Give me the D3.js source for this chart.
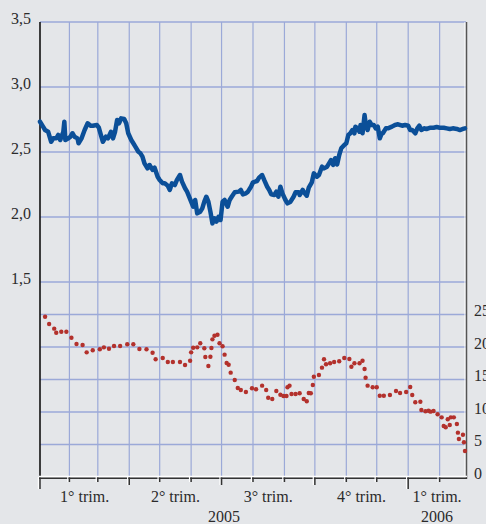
<!DOCTYPE html>
<html>
<head>
<meta charset="utf-8">
<script src="https://cdn.jsdelivr.net/npm/d3@7"></script>
<style>
  html, body { margin: 0; padding: 0; background: #e4e6e9; }
  svg { display: block; }
  text { font-family: "Liberation Serif", "Times New Roman", serif; font-size: 16px; fill: #2b2b2b; }
</style>
</head>
<body>
<svg id="chart" width="486" height="524"></svg>
<script>
// serie blu (scala sinistra)
const blueDates = [
  "2005-01-03","2005-01-06","2005-01-08","2005-01-11","2005-01-14","2005-01-16","2005-01-19","2005-01-21","2005-01-23","2005-01-26",
  "2005-01-27","2005-01-28","2005-01-31","2005-02-02","2005-02-04","2005-02-06","2005-02-09","2005-02-10","2005-02-13","2005-02-16",
  "2005-02-19","2005-02-22","2005-02-24","2005-02-28","2005-03-02","2005-03-04","2005-03-06","2005-03-09","2005-03-11","2005-03-14",
  "2005-03-16","2005-03-18","2005-03-20","2005-03-22","2005-03-24","2005-03-27","2005-03-29","2005-03-31","2005-04-03","2005-04-05",
  "2005-04-07","2005-04-10","2005-04-12","2005-04-14","2005-04-16","2005-04-19","2005-04-21","2005-04-24","2005-04-26","2005-04-29",
  "2005-05-01","2005-05-04","2005-05-06","2005-05-09","2005-05-11","2005-05-13","2005-05-16","2005-05-18","2005-05-21","2005-05-23",
  "2005-05-26","2005-05-28","2005-06-01","2005-06-03","2005-06-05","2005-06-07","2005-06-10","2005-06-12","2005-06-14","2005-06-16",
  "2005-06-18","2005-06-20","2005-06-22","2005-06-24","2005-06-26","2005-06-28","2005-06-30","2005-07-02","2005-07-04","2005-07-07",
  "2005-07-09","2005-07-11","2005-07-14","2005-07-18","2005-07-20","2005-07-22","2005-07-25","2005-07-27","2005-07-30","2005-08-01",
  "2005-08-05","2005-08-07","2005-08-10","2005-08-12","2005-08-15","2005-08-17","2005-08-19","2005-08-22","2005-08-24","2005-08-26",
  "2005-08-28","2005-08-30","2005-09-02","2005-09-04","2005-09-07","2005-09-10","2005-09-12","2005-09-15","2005-09-16","2005-09-19",
  "2005-09-21","2005-09-23","2005-09-25","2005-09-28","2005-09-30","2005-10-03","2005-10-05","2005-10-08","2005-10-10","2005-10-13",
  "2005-10-15","2005-10-17","2005-10-19","2005-10-21","2005-10-22","2005-10-23","2005-10-25","2005-10-27","2005-10-30","2005-11-01",
  "2005-11-03","2005-11-05","2005-11-07","2005-11-09","2005-11-10","2005-11-12","2005-11-14","2005-11-15","2005-11-17","2005-11-19",
  "2005-11-20","2005-11-22","2005-11-24","2005-11-26","2005-11-28","2005-11-30","2005-12-02","2005-12-04","2005-12-06","2005-12-07",
  "2005-12-10","2005-12-12","2005-12-16","2005-12-19","2005-12-22","2005-12-26","2005-12-29","2006-01-01","2006-01-03","2006-01-05",
  "2006-01-08","2006-01-10","2006-01-12","2006-01-14","2006-01-17","2006-01-19","2006-01-23","2006-01-26","2006-01-29","2006-02-01",
  "2006-02-05","2006-02-08","2006-02-11","2006-02-14","2006-02-18","2006-02-21","2006-02-24","2006-02-26"
];
const blueValues = [
  2.733,2.695,2.669,2.656,2.579,2.605,2.605,2.631,2.592,2.656,
  2.733,2.592,2.605,2.618,2.644,2.618,2.605,2.567,2.605,2.669,
  2.721,2.702,2.702,2.708,2.687,2.631,2.579,2.618,2.605,2.656,
  2.605,2.656,2.746,2.721,2.759,2.754,2.721,2.644,2.592,2.567,
  2.541,2.502,2.490,2.464,2.413,2.374,2.400,2.362,2.379,2.310,
  2.285,2.259,2.259,2.241,2.208,2.259,2.246,2.285,2.323,2.272,
  2.221,2.195,2.118,2.079,2.131,2.028,2.041,2.067,2.118,2.156,
  2.118,2.041,1.951,1.990,1.964,2.002,1.977,2.118,2.131,2.079,
  2.131,2.156,2.190,2.195,2.208,2.174,2.182,2.195,2.233,2.267,
  2.277,2.303,2.323,2.285,2.233,2.208,2.174,2.169,2.195,2.156,
  2.233,2.182,2.131,2.105,2.118,2.156,2.190,2.190,2.169,2.208,
  2.182,2.164,2.226,2.267,2.336,2.310,2.323,2.387,2.374,2.387,
  2.413,2.438,2.400,2.452,2.426,2.405,2.477,2.528,2.554,2.567,
  2.631,2.644,2.669,2.644,2.695,2.682,2.656,2.708,2.644,2.785,
  2.721,2.669,2.733,2.708,2.708,2.682,2.695,2.605,2.644,2.644,
  2.682,2.682,2.695,2.708,2.713,2.702,2.708,2.702,2.669,2.669,
  2.644,2.682,2.702,2.669,2.682,2.677,2.687,2.687,2.692,2.687,
  2.687,2.682,2.677,2.682,2.677,2.669,2.677,2.682
];

// serie rossa (scala destra)
const redDates = [
  "2005-01-08","2005-01-12","2005-01-17","2005-01-19","2005-01-24","2005-01-29","2005-02-03","2005-02-08","2005-02-14","2005-02-18",
  "2005-02-24","2005-03-03","2005-03-07","2005-03-12","2005-03-17","2005-03-23","2005-03-30","2005-04-05","2005-04-11","2005-04-18",
  "2005-04-24","2005-04-27","2005-05-04","2005-05-09","2005-05-14","2005-05-21","2005-05-26","2005-05-31","2005-06-01","2005-06-03",
  "2005-06-07","2005-06-10","2005-06-14","2005-06-15","2005-06-18","2005-06-20","2005-06-21","2005-06-22","2005-06-24","2005-06-27",
  "2005-06-29","2005-07-02","2005-07-04","2005-07-06","2005-07-08","2005-07-10","2005-07-14","2005-07-17","2005-07-20","2005-07-25",
  "2005-07-31","2005-08-04","2005-08-10","2005-08-14","2005-08-16","2005-08-20","2005-08-24","2005-08-28","2005-08-31","2005-09-03",
  "2005-09-04","2005-09-06","2005-09-08","2005-09-12","2005-09-16","2005-09-20","2005-09-23","2005-09-25","2005-09-27","2005-09-29",
  "2005-09-30","2005-10-05","2005-10-08","2005-10-10","2005-10-12","2005-10-16","2005-10-20","2005-10-25","2005-10-30","2005-11-04",
  "2005-11-06","2005-11-09","2005-11-14","2005-11-17","2005-11-19","2005-11-20","2005-11-22","2005-11-27","2005-12-01","2005-12-04",
  "2005-12-08","2005-12-14","2005-12-20","2005-12-24","2005-12-30","2006-01-03","2006-01-05","2006-01-08","2006-01-13","2006-01-14",
  "2006-01-18","2006-01-21","2006-01-23","2006-01-26","2006-01-30","2006-02-03","2006-02-05","2006-02-07","2006-02-09","2006-02-11",
  "2006-02-12","2006-02-15","2006-02-18","2006-02-19","2006-02-20","2006-02-24","2006-02-25","2006-02-26"
];
const redValues = [
  24.66,23.54,22.82,22.20,22.35,22.35,21.43,20.46,20.31,19.18,
  19.49,19.65,19.95,19.74,20.15,20.15,20.42,20.42,19.69,19.65,
  19.12,18.11,18.31,17.69,17.69,17.69,17.23,17.89,19.18,19.89,
  19.95,20.57,19.80,18.46,17.08,18.51,19.85,21.18,21.74,21.89,
  20.57,20.11,18.82,17.54,17.28,16.05,14.92,13.69,13.38,13.08,
  13.65,13.49,14.05,13.38,12.20,12.00,13.23,12.66,12.46,12.46,
  13.80,14.05,12.77,12.77,12.88,12.00,11.65,12.92,12.88,14.15,
  15.43,15.69,16.82,18.11,17.34,17.49,17.69,17.80,18.31,18.15,
  16.97,17.49,17.49,17.89,16.62,15.28,14.05,13.80,13.80,12.51,
  12.51,12.62,13.23,12.92,13.08,13.85,12.62,11.49,11.58,10.31,
  10.11,10.20,10.05,10.15,9.65,9.18,7.85,7.65,8.88,8.00,
  9.18,9.18,8.15,6.82,5.85,6.51,5.34,4.00
];

const leftTicks = [1.5, 2.0, 2.5, 3.0, 3.5];
const rightTicks = [0, 5, 10, 15, 20, 25];
const quarterLabels = ["1° trim.", "2° trim.", "3° trim.", "4° trim.", "1° trim."];
const yearLabels = ["2005", "2006"];

const parse = d3.utcParse("%Y-%m-%d");
const it = d3.formatLocale({decimal: ",", thousands: ".", grouping: [3], currency: ["", " €"]});
const fmt = it.format(".1f");

const x = d3.scaleUtc()
    .domain([parse("2005-01-03"), parse("2006-02-27")])
    .range([40, 466]);
const yL = d3.scaleLinear().domain([0, 3.5]).range([477, 22]);   // scala sinistra
const yR = d3.scaleLinear().domain([0, 70]).range([477, 22]);    // scala destra

const [xa, xb] = x.range();
const yTop = yL(3.5), yBase = yL(0);
const gridColor = "#9ba9d8";

const svg = d3.select("#chart");
svg.append("rect").attr("width", 486).attr("height", 524).attr("fill", "#e4e6e9");

// griglia verticale (inizio mese)
const months = d3.utcMonth.range(d3.utcMonth.ceil(x.domain()[0]), x.domain()[1]);
svg.append("g").selectAll("line").data(months).join("line")
    .attr("x1", d => x(d)).attr("x2", d => x(d))
    .attr("y1", yTop).attr("y2", yBase - 1)
    .attr("stroke", gridColor).attr("stroke-width", 1.2);

// griglia orizzontale
const hGrid = leftTicks.map(v => yL(v)).concat(rightTicks.filter(v => v > 0).map(v => yR(v)));
svg.append("g").selectAll("line").data(hGrid).join("line")
    .attr("x1", xa).attr("x2", xb)
    .attr("y1", d => d).attr("y2", d => d)
    .attr("stroke", gridColor).attr("stroke-width", 1.4);

// asse sinistro
svg.append("line").attr("x1", xa).attr("x2", xa).attr("y1", yTop).attr("y2", yBase - 1)
    .attr("stroke", "#111").attr("stroke-width", 1.6);
// bordo destro
svg.append("line").attr("x1", xb - 1).attr("x2", xb - 1).attr("y1", yTop).attr("y2", yBase)
    .attr("stroke", "#fff").attr("stroke-width", 1);
svg.append("line").attr("x1", xb + 0.5).attr("x2", xb + 0.5).attr("y1", yTop).attr("y2", yBase + 2)
    .attr("stroke", "#555").attr("stroke-width", 1.5);

// asse orizzontale
svg.append("line").attr("x1", xa - 1).attr("x2", xb + 1).attr("y1", yBase - 0.5).attr("y2", yBase - 0.5)
    .attr("stroke", "#fff").attr("stroke-width", 1.5);
svg.append("line").attr("x1", xa - 1).attr("x2", xb + 1).attr("y1", yBase + 1.2).attr("y2", yBase + 1.2)
    .attr("stroke", "#333").attr("stroke-width", 1.5);

const tickLen = d => {
  if (d.getUTCMonth() === 0) return 11;
  if (d.getUTCMonth() % 3 === 0) return 7;
  return 4;
};
const ticks = [x.domain()[0]].concat(months);
const tg = svg.append("g");
tg.selectAll(".tw").data(ticks).join("line").attr("class", "tw")
    .attr("x1", d => x(d) - 1.6).attr("x2", d => x(d) - 1.6)
    .attr("y1", yBase).attr("y2", d => yBase + 1 + tickLen(d))
    .attr("stroke", "#fff").attr("stroke-width", 1.2);
tg.selectAll(".tk").data(ticks).join("line").attr("class", "tk")
    .attr("x1", d => x(d)).attr("x2", d => x(d))
    .attr("y1", yBase + 0.5).attr("y2", d => yBase + 1 + tickLen(d))
    .attr("stroke", "#333").attr("stroke-width", 1.5);

// etichette asse sinistro
svg.append("g").selectAll("text").data(leftTicks).join("text")
    .attr("x", 31).attr("y", d => yL(d) + 2)
    .attr("text-anchor", "end")
    .text(d => fmt(d));

// etichette asse destro
svg.append("g").selectAll("text").data(rightTicks).join("text")
    .attr("x", xb + 8).attr("y", d => yR(d) + 1.5)
    .attr("text-anchor", "start")
    .text(d => d);

// trimestri
const quarters = d3.utcMonth.every(3).range(d3.utcYear.floor(x.domain()[0]), x.domain()[1]);
svg.append("g").selectAll("text").data(quarters).join("text")
    .attr("y", 502)
    .attr("text-anchor", "middle")
    .text((d, i) => quarterLabels[i])
    .attr("x", function(d) {
      const a = Math.max(xa, x(d));
      const b = Math.min(xb, x(d3.utcMonth.offset(d, 3)));
      const half = this.getComputedTextLength() / 2;
      return Math.min((a + b) / 2, xb + 2 - half);
    });

// anni
const years = d3.utcYear.range(d3.utcYear.floor(x.domain()[0]), x.domain()[1]);
svg.append("g").selectAll("text").data(years).join("text")
    .attr("y", 522)
    .attr("text-anchor", "middle")
    .attr("x", d => (Math.max(xa, x(d)) + Math.min(xb, x(d3.utcYear.offset(d, 1)))) / 2)
    .text((d, i) => yearLabels[i]);

// linea blu
const blue = blueDates.map((d, i) => ({date: parse(d), value: blueValues[i]}));
const line = d3.line().x(d => x(d.date)).y(d => yL(d.value));
svg.append("path").datum(blue)
    .attr("d", line)
    .attr("fill", "none")
    .attr("stroke", "#0b4f98")
    .attr("stroke-width", 4.5)
    .attr("stroke-linejoin", "round")
    .attr("stroke-linecap", "round");

// punti rossi
const red = redDates.map((d, i) => ({date: parse(d), value: redValues[i]}));
svg.append("g").selectAll("circle").data(red).join("circle")
    .attr("cx", d => x(d.date))
    .attr("cy", d => yR(d.value))
    .attr("r", 2.2)
    .attr("fill", "#b3312c");
</script>
</body>
</html>
